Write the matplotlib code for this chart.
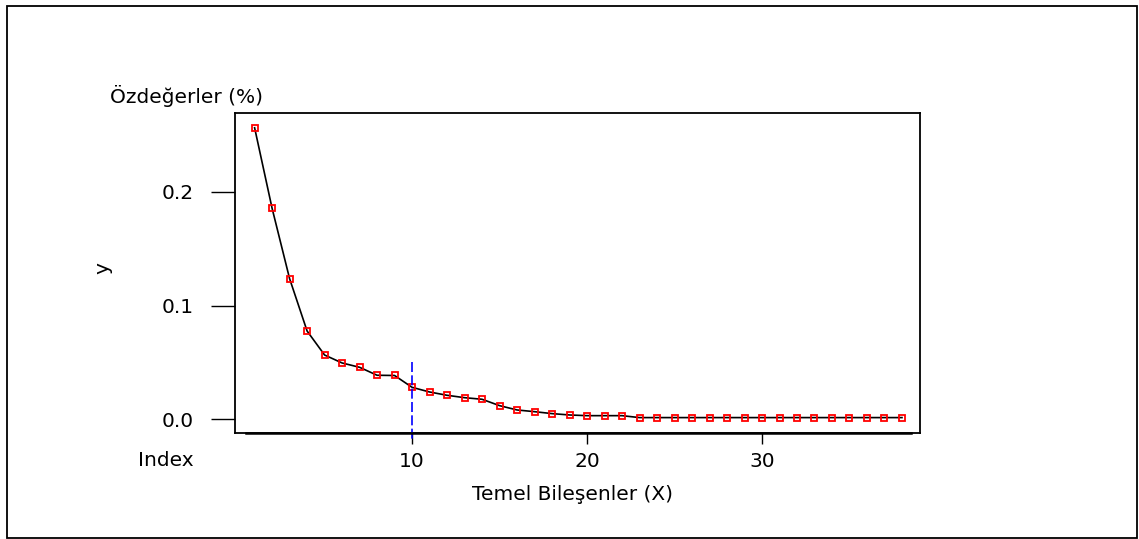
import numpy as np
import matplotlib
matplotlib.use("Agg")
import matplotlib.pyplot as plt
from matplotlib.patches import Rectangle
import matplotlib.transforms as mtransforms

plt.rcParams['font.family'] = ['DejaVu Sans']

# veriler
indeks = np.arange(1, 39)
ozdegerler = [0.2562, 0.1854, 0.1236, 0.0776, 0.0565, 0.0495, 0.0457, 0.0387,
              0.0385, 0.0281, 0.0240, 0.0211, 0.0190, 0.0176, 0.0120, 0.0082,
              0.0067, 0.0050, 0.0038, 0.0032, 0.0032, 0.0032, 0.0015, 0.0015,
              0.0015, 0.0015, 0.0015, 0.0015, 0.0015, 0.0015, 0.0015, 0.0015,
              0.0015, 0.0015, 0.0015, 0.0015, 0.0015, 0.0015]
secilen = 10
x_ticks = [10, 20, 30]
y_ticks = [0.0, 0.1, 0.2]

fs = 14.5
W, H = 1139, 539
fig = plt.figure(figsize=(W / 100, H / 100), dpi=100)
ax = fig.add_axes([235 / W, 1 - 432.5 / H, (920 - 235) / W, (432.5 - 112.5) / H])

ax.plot(indeks, ozdegerler, color='black', lw=1.2, zorder=2)
ax.plot(indeks, ozdegerler, ls='none', marker='s', ms=3.8, mfc='none',
        mec='red', mew=1.3, zorder=3)
ax.plot([secilen, secilen], [0.05, -0.018], color='blue', lw=1.2,
        ls=(0, (6, 2)), zorder=4, clip_on=False)

ax.set_xlim(-0.12, 39.03)
ax.set_ylim(-0.0116, 0.2696)
ax.set_xticks(x_ticks)
ax.set_yticks(y_ticks)
ax.set_yticklabels(['0.0', '0.1', '0.2'])
ax.tick_params(axis='y', length=17.3, width=1.0, pad=12.5, labelsize=fs)
ax.tick_params(axis='x', length=8, width=1.0, pad=6, labelsize=fs)
for s in ax.spines.values():
    s.set_linewidth(1.3)

# alt eksen cizgisi
tr = mtransforms.blended_transform_factory(ax.transData, ax.transAxes)
ax.plot([0.5, 38.5], [0, 0], color='black', lw=1.8, transform=tr,
        clip_on=False, zorder=5)

fig.text(110 / W, 1 - 96 / H, 'Özdeğerler (%)', fontsize=fs, va='center', ha='left')
fig.text(103 / W, 1 - 268 / H, 'y', fontsize=fs, va='center', ha='center', rotation=90)
fig.text(194 / W, 1 - 461 / H, 'Index', fontsize=fs, va='center', ha='right')
fig.text(572 / W, 1 - 495 / H, 'Temel Bileşenler (X)', fontsize=fs, va='center', ha='center')

fig.patches.append(Rectangle((7 / W, 1 - 538 / H), (1137 - 7) / W, (538 - 6) / H,
                             transform=fig.transFigure, fill=False,
                             edgecolor='black', lw=1.3))

fig.savefig('out.png', dpi=100)
